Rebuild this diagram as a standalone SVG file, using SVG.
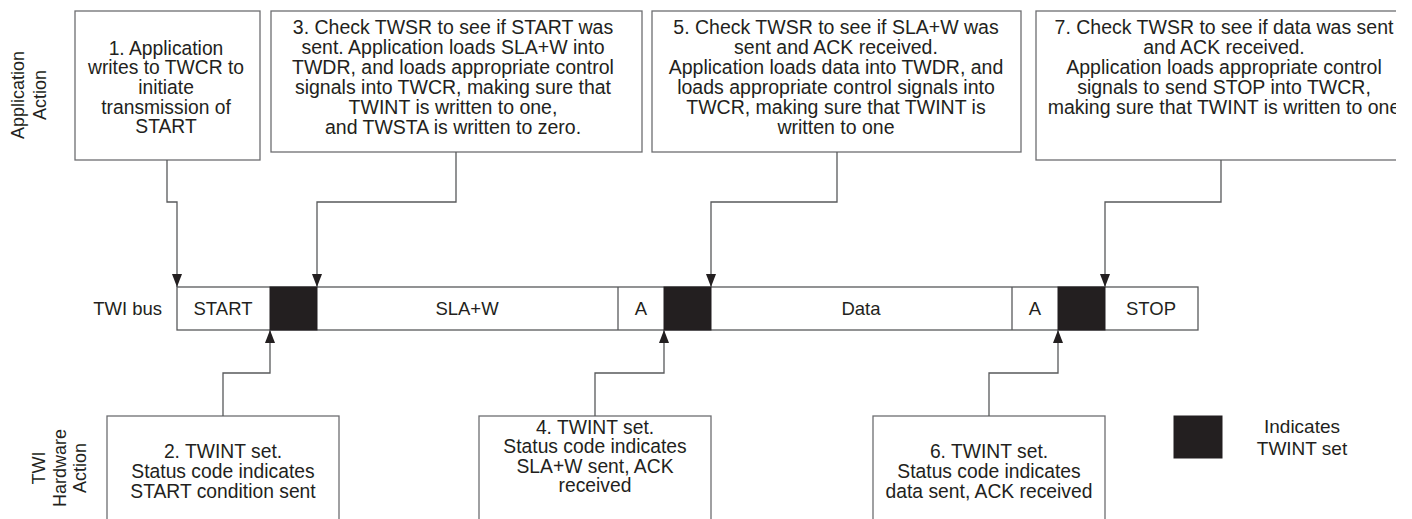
<svg xmlns="http://www.w3.org/2000/svg" width="1412" height="519" viewBox="0 0 1412 519">
  <style>
    .box { fill: #ffffff; stroke: #6d6e71; stroke-width: 1.3; }
    .seg { fill: #ffffff; stroke: #58595b; stroke-width: 1.3; }
    .blk { fill: #231f20; stroke: #231f20; stroke-width: 1; }
    .t { font-family: "Liberation Sans", Arial, sans-serif; font-size: 19.5px; fill: #231f20; text-anchor: middle; }
    .s { font-size: 19.3px; }
    .bus { font-family: "Liberation Sans", Arial, sans-serif; font-size: 18.5px; fill: #231f20; text-anchor: middle; }
    .lbl { font-family: "Liberation Sans", Arial, sans-serif; font-size: 18px; fill: #231f20; text-anchor: middle; }
    .con { fill: none; stroke: #58595b; stroke-width: 1.3; marker-end: url(#arr); }
  </style>
  <defs>
    <marker id="arr" markerUnits="userSpaceOnUse" markerWidth="13" markerHeight="10" refX="13" refY="5" orient="auto">
      <path d="M0,0 L13,5 L0,10 z" fill="#231f20"/>
    </marker>
    <clipPath id="clipR"><rect x="0" y="0" width="1396" height="519"/></clipPath>
  </defs>
  <rect width="1412" height="519" fill="#ffffff"/>

  <g id="label-app">
    <text class="lbl" transform="translate(24,95) rotate(-90)"><tspan x="0" y="0">Application</tspan><tspan x="0" y="21.5">Action</tspan></text>
  </g>
  <g id="label-hw">
    <text class="lbl" transform="translate(45,468) rotate(-90)"><tspan x="0" y="0">TWI</tspan><tspan x="0" y="21">Hardware</tspan><tspan x="0" y="41">Action</tspan></text>
  </g>

  <g id="step1">
    <rect class="box" x="75" y="11" width="185" height="149"/>
    <text class="t s"><tspan x="166" y="54.8">1. Application</tspan><tspan x="166" y="74.4">writes to TWCR to</tspan><tspan x="166" y="94">initiate</tspan><tspan x="166" y="113.6">transmission of</tspan><tspan x="166" y="133.2">START</tspan></text>
  </g>
  <g id="step3">
    <rect class="box" x="271" y="11" width="371" height="141"/>
    <text class="t"><tspan x="453" y="34">3. Check TWSR to see if START was</tspan><tspan x="453" y="54">sent. Application loads SLA+W into</tspan><tspan x="453" y="74">TWDR, and loads appropriate control</tspan><tspan x="453" y="94">signals into TWCR, making sure that</tspan><tspan x="453" y="114">TWINT is written to one,</tspan><tspan x="453" y="134">and TWSTA is written to zero.</tspan></text>
  </g>
  <g id="step5">
    <rect class="box" x="652" y="11" width="369" height="141"/>
    <text class="t"><tspan x="836" y="34">5. Check TWSR to see if SLA+W was</tspan><tspan x="836" y="54">sent and ACK received.</tspan><tspan x="836" y="74">Application loads data into TWDR, and</tspan><tspan x="836" y="94">loads appropriate control signals into</tspan><tspan x="836" y="114">TWCR, making sure that TWINT is</tspan><tspan x="836" y="134">written to one</tspan></text>
  </g>
  <g id="step7" clip-path="url(#clipR)">
    <rect class="box" x="1036" y="11" width="380" height="149"/>
    <text class="t"><tspan x="1224" y="34">7. Check TWSR to see if data was sent</tspan><tspan x="1224" y="54">and ACK received.</tspan><tspan x="1224" y="74">Application loads appropriate control</tspan><tspan x="1224" y="94">signals to send STOP into TWCR,</tspan><tspan x="1224" y="114">making sure that TWINT is written to one</tspan></text>
  </g>

  <g id="twi-bus">
    <text class="bus" x="162" y="315" style="text-anchor:end">TWI bus</text>
    <rect class="seg" x="177" y="287" width="1021" height="43"/>
    <line x1="618" y1="287" x2="618" y2="330" stroke="#58595b" stroke-width="1.3"/>
    <line x1="1012" y1="287" x2="1012" y2="330" stroke="#58595b" stroke-width="1.3"/>
    <rect class="blk" x="270" y="287" width="47" height="43"/>
    <rect class="blk" x="664" y="287" width="47" height="43"/>
    <rect class="blk" x="1058" y="287" width="47" height="43"/>
    <text class="bus" x="223" y="315">START</text>
    <text class="bus" x="467" y="315">SLA+W</text>
    <text class="bus" x="641" y="315">A</text>
    <text class="bus" x="861" y="315">Data</text>
    <text class="bus" x="1035" y="315">A</text>
    <text class="bus" x="1151" y="315">STOP</text>
  </g>

  <g id="step2">
    <rect class="box" x="107" y="416" width="232" height="130"/>
    <text class="t s"><tspan x="223" y="458.4">2. TWINT set.</tspan><tspan x="223" y="478">Status code indicates</tspan><tspan x="223" y="497.6">START condition sent</tspan></text>
  </g>
  <g id="step4">
    <rect class="box" x="479" y="416" width="232" height="130"/>
    <text class="t s"><tspan x="595" y="433.6">4. TWINT set.</tspan><tspan x="595" y="453.2">Status code indicates</tspan><tspan x="595" y="472.8">SLA+W sent, ACK</tspan><tspan x="595" y="492.4">received</tspan></text>
  </g>
  <g id="step6">
    <rect class="box" x="873" y="416" width="232" height="130"/>
    <text class="t s"><tspan x="989" y="458.4">6. TWINT set.</tspan><tspan x="989" y="478">Status code indicates</tspan><tspan x="989" y="497.6">data sent, ACK received</tspan></text>
  </g>

  <g id="legend">
    <rect class="blk" x="1174" y="416" width="48" height="42"/>
    <text class="t" style="font-size:19px"><tspan x="1302" y="433">Indicates</tspan><tspan x="1302" y="455">TWINT set</tspan></text>
  </g>

  <g id="connectors">
    <path class="con" d="M167,160 V202 H177 V287"/>
    <path class="con" d="M456,152 V202 H317 V287"/>
    <path class="con" d="M837,152 V202 H711 V287"/>
    <path class="con" d="M1221,160 V202 H1105 V287"/>
    <path class="con" d="M223,416 V373 H270 V330"/>
    <path class="con" d="M595,416 V373 H664 V330"/>
    <path class="con" d="M989,416 V373 H1058 V330"/>
  </g>
</svg>
